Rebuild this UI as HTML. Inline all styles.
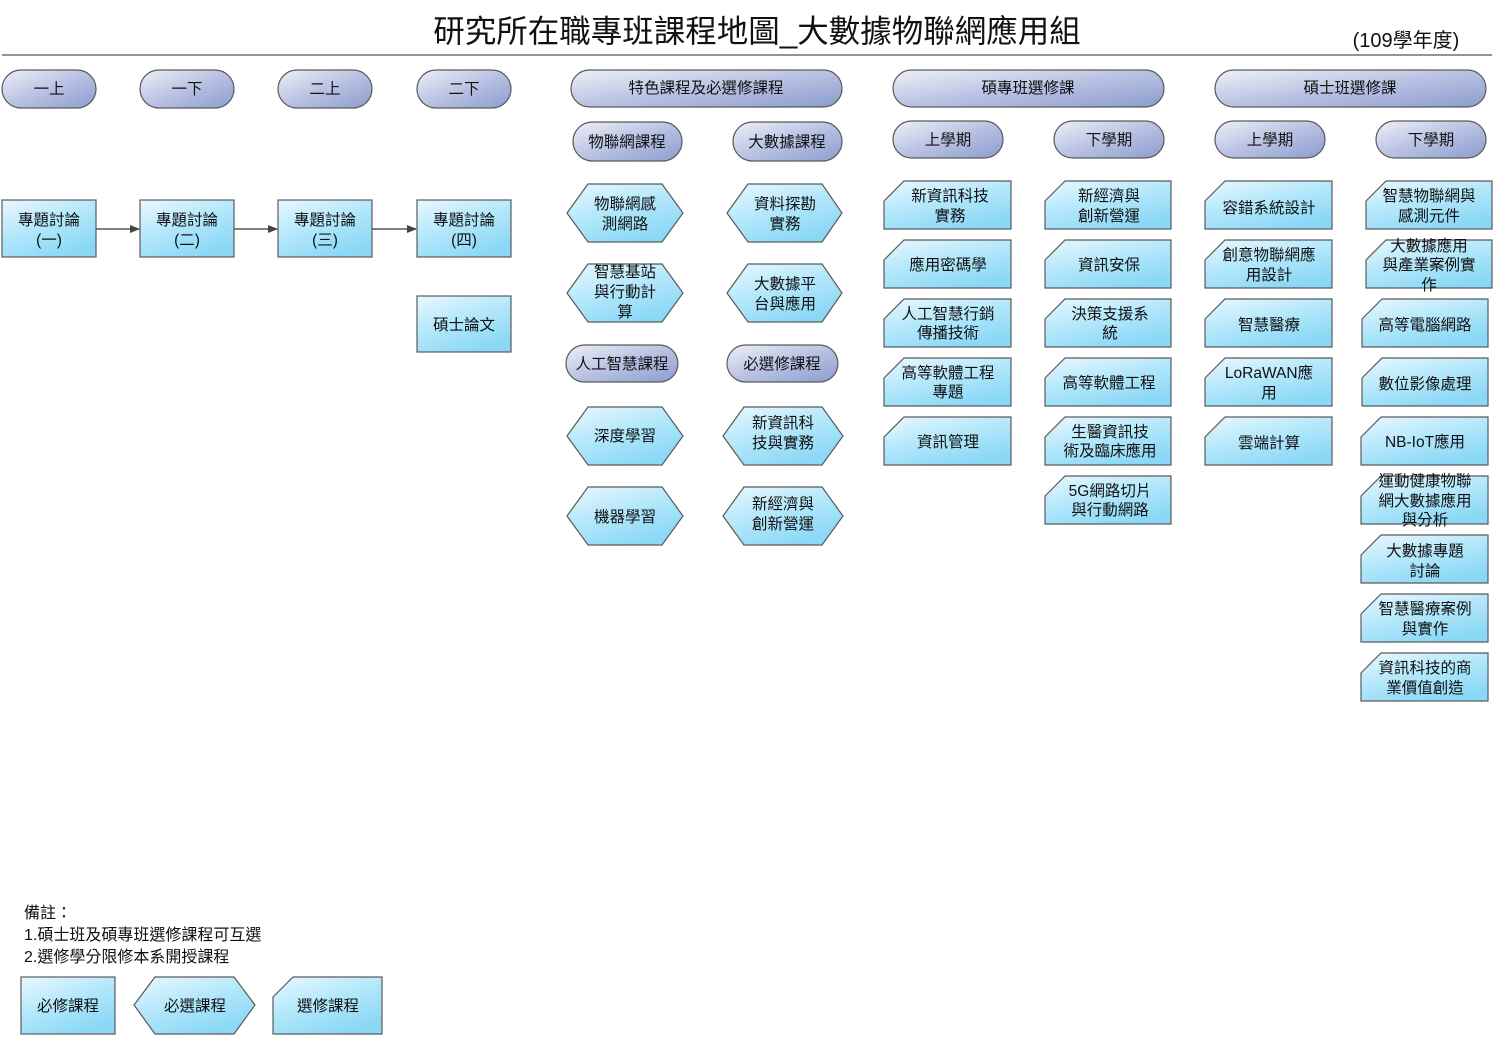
<!DOCTYPE html>
<html><head><meta charset="utf-8"><style>
html,body{margin:0;padding:0;background:#fff;}
svg{display:block;}
text{font-family:"Liberation Sans","Noto Sans CJK TC","WenQuanYi Zen Hei",sans-serif;fill:#111;}
.t{font-size:15.5px;text-anchor:middle;}
</style></head><body>
<svg width="1496" height="1037" viewBox="0 0 1496 1037" xmlns="http://www.w3.org/2000/svg">
<defs>
<linearGradient id="g" x1="0" y1="0" x2="0.6" y2="1"><stop offset="0" stop-color="#eaf8ff"/><stop offset="0.5" stop-color="#b5e8fb"/><stop offset="1" stop-color="#8bd8f6"/></linearGradient>
<linearGradient id="p" x1="0" y1="0" x2="1" y2="1"><stop offset="0" stop-color="#eef0f8"/><stop offset="0.5" stop-color="#b9c2e2"/><stop offset="1" stop-color="#8c9ccf"/></linearGradient>
<marker id="ar" markerWidth="10" markerHeight="8" refX="9" refY="4" orient="auto" markerUnits="userSpaceOnUse"><path d="M0,0 L10,4 L0,8 Z" fill="#444"/></marker>
</defs>
<g stroke="#5a5a5a" stroke-width="1.2">
<line x1="2" y1="55" x2="1492" y2="55" stroke="#555"/>
</g>
<text x="757" y="42" style="font-size:31.5px;text-anchor:middle">研究所在職專班課程地圖_大數據物聯網應用組</text>
<text x="1406" y="47" style="font-size:20px;text-anchor:middle">(109學年度)</text>

<g stroke="#5a5a5a" stroke-width="1.2" fill="url(#p)">
<rect x="2" y="70" width="94" height="38" rx="19"/>
<rect x="140" y="70" width="94" height="38" rx="19"/>
<rect x="278" y="70" width="94" height="38" rx="19"/>
<rect x="417" y="70" width="94" height="38" rx="19"/>
<rect x="571" y="70" width="271" height="37" rx="18.5"/>
<rect x="893" y="70" width="271" height="37" rx="18.5"/>
<rect x="1215" y="70" width="271" height="37" rx="18.5"/>
<rect x="573" y="122" width="109" height="39" rx="19.5"/>
<rect x="733" y="122" width="109" height="39" rx="19.5"/>
<rect x="893" y="121" width="110" height="37" rx="18.5"/>
<rect x="1054" y="121" width="110" height="37" rx="18.5"/>
<rect x="1215" y="121" width="110" height="37" rx="18.5"/>
<rect x="1376" y="121" width="110" height="37" rx="18.5"/>
<rect x="566" y="345" width="112" height="37" rx="18.5"/>
<rect x="727" y="345" width="111" height="37" rx="18.5"/>
</g>
<g class="t">
<text x="49" y="94">一上</text><text x="187" y="94">一下</text><text x="325" y="94">二上</text><text x="464" y="94">二下</text>
<text x="706" y="93">特色課程及必選修課程</text><text x="1028" y="93">碩專班選修課</text><text x="1350" y="93">碩士班選修課</text>
<text x="627" y="147">物聯網課程</text><text x="787" y="147">大數據課程</text>
<text x="948" y="145">上學期</text><text x="1109" y="145">下學期</text><text x="1270" y="145">上學期</text><text x="1431" y="145">下學期</text>
<text x="622" y="369">人工智慧課程</text><text x="782" y="369">必選修課程</text>
</g>

<g stroke="#5a5a5a" stroke-width="1.2" fill="url(#g)">
<rect x="2" y="200" width="94" height="57"/>
<rect x="140" y="200" width="94" height="57"/>
<rect x="278" y="200" width="94" height="57"/>
<rect x="417" y="200" width="94" height="57"/>
<rect x="417" y="296" width="94" height="56"/>
<rect x="21" y="977" width="94" height="57"/>
</g>
<g stroke="#555" stroke-width="1.5" marker-end="url(#ar)">
<line x1="96" y1="229" x2="139" y2="229"/>
<line x1="234" y1="229" x2="277" y2="229"/>
<line x1="372" y1="229" x2="416" y2="229"/>
</g>
<g class="t">
<text x="49" y="225">專題討論</text><text x="49" y="245">(一)</text>
<text x="187" y="225">專題討論</text><text x="187" y="245">(二)</text>
<text x="325" y="225">專題討論</text><text x="325" y="245">(三)</text>
<text x="464" y="225">專題討論</text><text x="464" y="245">(四)</text>
<text x="464" y="330">碩士論文</text>
<text x="68" y="1011">必修課程</text>
</g>

<g stroke="#5a5a5a" stroke-width="1.2" fill="url(#g)">
<polygon points="567,213 588,184 662,184 683,213 662,242 588,242"/>
<polygon points="727,213 748,184 822,184 842,213 822,242 748,242"/>
<polygon points="567,293 588,264 662,264 683,293 662,322 588,322"/>
<polygon points="727,293 748,264 822,264 842,293 822,322 748,322"/>
<polygon points="567,436 588,407 662,407 683,436 662,465 588,465"/>
<polygon points="723,436 744,407 822,407 843,436 822,465 744,465"/>
<polygon points="567,516 588,487 662,487 683,516 662,545 588,545"/>
<polygon points="723,516 744,487 822,487 843,516 822,545 744,545"/>
<polygon points="134,1005 155,977 234,977 255,1005 234,1034 155,1034"/>
</g>
<g class="t">
<text x="625" y="209">物聯網感</text><text x="625" y="229">測網路</text>
<text x="785" y="209">資料探勘</text><text x="785" y="229">實務</text>
<text x="625" y="277">智慧基站</text><text x="625" y="297">與行動計</text><text x="625" y="317">算</text>
<text x="785" y="289">大數據平</text><text x="785" y="309">台與應用</text>
<text x="625" y="441">深度學習</text>
<text x="783" y="428">新資訊科</text><text x="783" y="448">技與實務</text>
<text x="625" y="522">機器學習</text>
<text x="783" y="509">新經濟與</text><text x="783" y="529">創新營運</text>
<text x="195" y="1011">必選課程</text>
</g>

<g stroke="#5a5a5a" stroke-width="1.2" fill="url(#g)">
<polygon points="884,201 904,181 1011,181 1011,229 884,229"/>
<polygon points="884,260 904,240 1011,240 1011,288 884,288"/>
<polygon points="884,319 904,299 1011,299 1011,347 884,347"/>
<polygon points="884,378 904,358 1011,358 1011,406 884,406"/>
<polygon points="884,437 904,417 1011,417 1011,465 884,465"/>
<polygon points="1045,201 1065,181 1171,181 1171,229 1045,229"/>
<polygon points="1045,260 1065,240 1171,240 1171,288 1045,288"/>
<polygon points="1045,319 1065,299 1171,299 1171,347 1045,347"/>
<polygon points="1045,378 1065,358 1171,358 1171,406 1045,406"/>
<polygon points="1045,437 1065,417 1171,417 1171,465 1045,465"/>
<polygon points="1045,496 1065,476 1171,476 1171,524 1045,524"/>
<polygon points="1205,201 1225,181 1332,181 1332,229 1205,229"/>
<polygon points="1205,260 1225,240 1332,240 1332,288 1205,288"/>
<polygon points="1205,319 1225,299 1332,299 1332,347 1205,347"/>
<polygon points="1205,378 1225,358 1332,358 1332,406 1205,406"/>
<polygon points="1205,437 1225,417 1332,417 1332,465 1205,465"/>
<polygon points="1366,201 1386,181 1492,181 1492,229 1366,229"/>
<polygon points="1366,260 1386,240 1492,240 1492,288 1366,288"/>
<polygon points="1362,319 1382,299 1488,299 1488,347 1362,347"/>
<polygon points="1362,378 1382,358 1488,358 1488,406 1362,406"/>
<polygon points="1361,437 1381,417 1488,417 1488,465 1361,465"/>
<polygon points="1361,496 1381,476 1488,476 1488,524 1361,524"/>
<polygon points="1361,555 1381,535 1488,535 1488,583 1361,583"/>
<polygon points="1361,614 1381,594 1488,594 1488,642 1361,642"/>
<polygon points="1361,673 1381,653 1488,653 1488,701 1361,701"/>
<polygon points="273,997 293,977 382,977 382,1034 273,1034"/>
</g>
<g class="t">
<text x="950" y="201">新資訊科技</text><text x="950" y="221">實務</text>
<text x="948" y="270">應用密碼學</text>
<text x="948" y="319">人工智慧行銷</text><text x="948" y="338">傳播技術</text>
<text x="948" y="378">高等軟體工程</text><text x="948" y="397">專題</text>
<text x="948" y="447">資訊管理</text>
<text x="1109" y="201">新經濟與</text><text x="1109" y="221">創新營運</text>
<text x="1109" y="270">資訊安保</text>
<text x="1110" y="319">決策支援系</text><text x="1110" y="338">統</text>
<text x="1109" y="388">高等軟體工程</text>
<text x="1110" y="437">生醫資訊技</text><text x="1110" y="456">術及臨床應用</text>
<text x="1110" y="496">5G網路切片</text><text x="1110" y="515">與行動網路</text>
<text x="1269" y="213">容錯系統設計</text>
<text x="1269" y="260">創意物聯網應</text><text x="1269" y="280">用設計</text>
<text x="1269" y="330">智慧醫療</text>
<text x="1269" y="378">LoRaWAN應</text><text x="1269" y="398">用</text>
<text x="1269" y="448">雲端計算</text>
<text x="1429" y="201">智慧物聯網與</text><text x="1429" y="221">感測元件</text>
<text x="1429" y="251">大數據應用</text><text x="1429" y="270">與產業案例實</text><text x="1429" y="290">作</text>
<text x="1425" y="330">高等電腦網路</text>
<text x="1425" y="389">數位影像處理</text>
<text x="1425" y="447">NB-IoT應用</text>
<text x="1425" y="486">運動健康物聯</text><text x="1425" y="506">網大數據應用</text><text x="1425" y="525">與分析</text>
<text x="1425" y="556">大數據專題</text><text x="1425" y="576">討論</text>
<text x="1425" y="614">智慧醫療案例</text><text x="1425" y="634">與實作</text>
<text x="1425" y="673">資訊科技的商</text><text x="1425" y="693">業價值創造</text>
<text x="328" y="1011">選修課程</text>
</g>

<g style="font-size:16px">
<text x="24" y="918">備註：</text>
<text x="24" y="940">1.碩士班及碩專班選修課程可互選</text>
<text x="24" y="962">2.選修學分限修本系開授課程</text>
</g>
</svg>
</body></html>
